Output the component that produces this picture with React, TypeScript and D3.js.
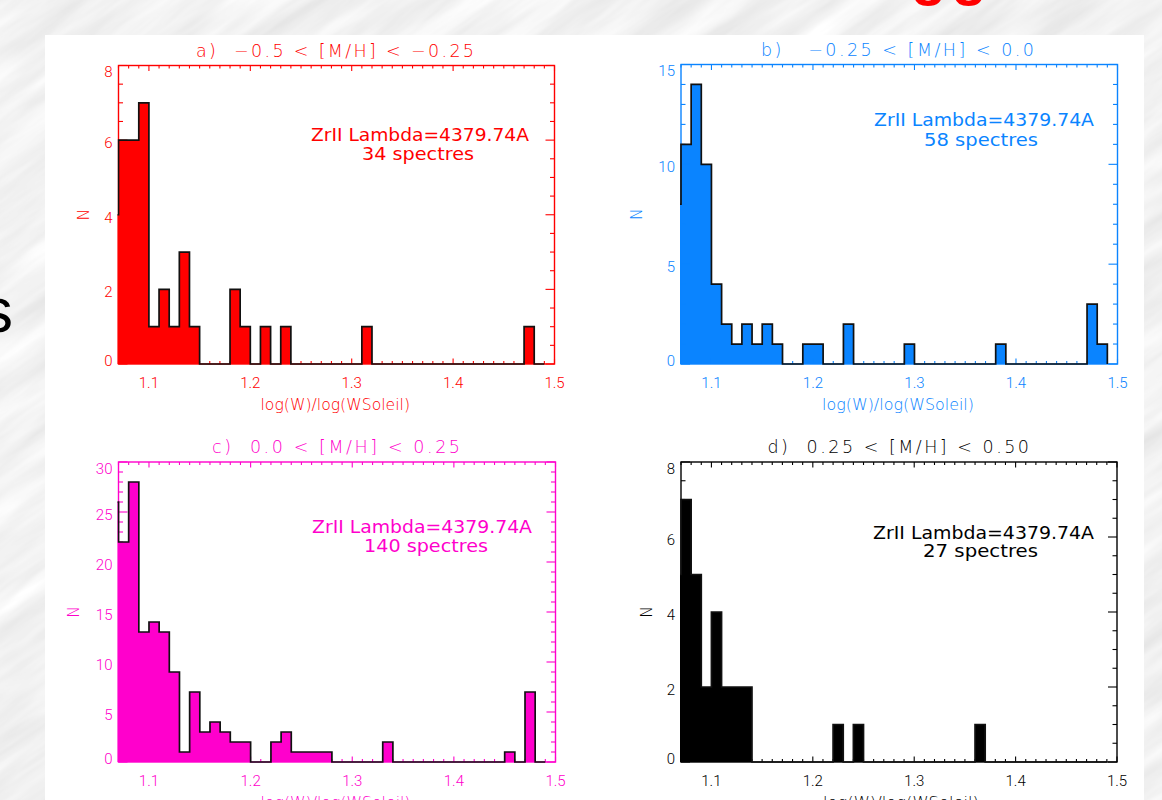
import React from "react";
import * as d3 from "d3";

// ---------- data ----------
const binStart = 1.07;
const binWidth = 0.01;
const xDomain: [number, number] = [1.07, 1.5];
const xMajorTicks = [1.1, 1.2, 1.3, 1.4, 1.5];

// counts per 0.01 bin, starting at 1.07
const countsA = [6, 6, 7, 1, 2, 1, 3, 1, 0, 0, 0, 2, 1, 0, 1, 0, 1, 0, 0, 0, 0, 0, 0, 0, 1, 0, 0, 0, 0, 0, 0, 0, 0, 0, 0, 0, 0, 0, 0, 0, 1, 0];
const countsB = [11, 14, 10, 4, 2, 1, 2, 1, 2, 1, 0, 0, 1, 1, 0, 0, 2, 0, 0, 0, 0, 0, 1, 0, 0, 0, 0, 0, 0, 0, 0, 1, 0, 0, 0, 0, 0, 0, 0, 0, 3, 1];
const countsC = [22, 28, 13, 14, 13, 9, 1, 7, 3, 4, 3, 2, 2, 0, 0, 2, 3, 1, 1, 1, 1, 0, 0, 0, 0, 0, 2, 0, 0, 0, 0, 0, 0, 0, 0, 0, 0, 0, 1, 0, 7, 0];
const countsD = [7, 5, 2, 4, 2, 2, 2, 0, 0, 0, 0, 0, 0, 0, 0, 1, 0, 1, 0, 0, 0, 0, 0, 0, 0, 0, 0, 0, 0, 1, 0, 0, 0, 0, 0, 0, 0, 0, 0, 0, 0, 0];
// value of the (clipped) bin just below 1.07
const edgeCounts = [4, 8, 26, 5];

const titles = [
  "a)  −0.5 < [M/H] < −0.25",
  "b)   −0.25 < [M/H] < 0.0",
  "c)  0.0 < [M/H] < 0.25",
  "d)  0.25 < [M/H] < 0.50",
];
const lineLabel = "ZrII Lambda=4379.74A";
const spectraCounts = [34, 58, 140, 27];
const yMaxes = [8, 15, 30, 8];
const yMajorSteps = [2, 5, 5, 2];
const yMinorSteps = [0.5, 1, 1, 0.5];
const xTitle = "log(W)/log(WSoleil)";
const yTitle = "N";
const colors = ["#ff0000", "#0a84ff", "#ff00cc", "#000000"];

// ---------- layout ----------
const layouts = [
  { left: 118.5, right: 554.5, top: 65.5, bottom: 364, titleX: 196, titleLen: 278, a1x: 311, a1y: 141, a1len: 218, a2x: 362, a2y: 159.5, a2len: 112, xtX: 260.5, xtLen: 149.5, ytX: 83 },
  { left: 681, right: 1117.5, top: 64.5, bottom: 364, titleX: 761, titleLen: 273, a1x: 874, a1y: 126, a1len: 220, a2x: 924, a2y: 145.5, a2len: 114, xtX: 822, xtLen: 152, ytX: 636 },
  { left: 118.5, right: 555.5, top: 462, bottom: 762, titleX: 212, titleLen: 248, a1x: 312, a1y: 532.5, a1len: 220, a2x: 364, a2y: 552, a2len: 124, xtX: 260.5, xtLen: 150, ytX: 73.5 },
  { left: 681, right: 1117, top: 462, bottom: 762, titleX: 767.5, titleLen: 261.5, a1x: 873, a1y: 539, a1len: 221, a2x: 923, a2y: 556.5, a2len: 115, xtX: 823, xtLen: 156, ytX: 646 },
];

const thinFont = "Roboto, 'Liberation Sans', sans-serif";
const wideFont = "'DejaVu Sans', 'Liberation Sans', sans-serif";

type Pt = [number, number];

function Panel({ i, counts }: { i: number; counts: number[] }) {
  const L = layouts[i];
  const color = colors[i];
  const yMax = yMaxes[i];
  const x = d3.scaleLinear().domain(xDomain).range([L.left, L.right]);
  const y = d3.scaleLinear().domain([0, yMax]).range([L.bottom, L.top]);

  const pts: Pt[] = [
    [binStart - binWidth, edgeCounts[i]],
    ...counts.map((c, k) => [binStart + k * binWidth, c] as Pt),
    [binStart + counts.length * binWidth, 0],
  ];
  const area = d3
    .area<Pt>()
    .x((d) => x(d[0]))
    .y0(y(0))
    .y1((d) => y(d[1]))
    .curve(d3.curveStepAfter);
  const line = d3
    .line<Pt>()
    .x((d) => x(d[0]))
    .y((d) => y(d[1]))
    .curve(d3.curveStepAfter);

  const xMinor = d3.range(0, 44).map((k) => +(binStart + k * 0.01).toFixed(2));
  const yMajor = d3.range(0, yMax + 1e-9, yMajorSteps[i]);
  const yMinor = d3.range(0, yMax + 1e-9, yMinorSteps[i]);

  const xMajLen = 5.5, xMinLen = 3, yMajLen = 9, yMinLen = 4.5;
  const clipId = `clip${i}`;

  const yLabelBaseline = (v: number) => {
    let c = y(v) + 2.5;
    if (v === yMax) c = L.top + 6.5;
    if (v === 0) c = L.bottom - 3.5;
    return c + 5.3;
  };

  return (
    <g>
      <defs>
        <clipPath id={clipId}>
          <rect x={L.left - 1} y={L.top} width={L.right - L.left + 1} height={L.bottom - L.top + 2} />
        </clipPath>
      </defs>
      <path d={area(pts) || ""} fill={color} clipPath={`url(#${clipId})`} />
      {/* frame */}
      <rect x={L.left} y={L.top} width={L.right - L.left} height={L.bottom - L.top} fill="none" stroke={color} strokeWidth={1.4} />
      {/* ticks on all four sides */}
      <g stroke={color} strokeWidth={1.1}>
        {xMinor.map((v) => {
          const major = xMajorTicks.some((m) => Math.abs(m - v) < 1e-6);
          const len = major ? xMajLen : xMinLen;
          return (
            <g key={"x" + v}>
              <line x1={x(v)} x2={x(v)} y1={L.bottom} y2={L.bottom - len} />
              <line x1={x(v)} x2={x(v)} y1={L.top} y2={L.top + len} />
            </g>
          );
        })}
        {yMinor.map((v) => {
          const major = yMajor.some((m) => Math.abs(m - v) < 1e-6);
          const len = major ? yMajLen : yMinLen;
          return (
            <g key={"y" + v}>
              <line x1={L.left} x2={L.left + len} y1={y(v)} y2={y(v)} />
              <line x1={L.right} x2={L.right - len} y1={y(v)} y2={y(v)} />
            </g>
          );
        })}
      </g>
      {/* histogram outline */}
      <path d={line(pts) || ""} fill="none" stroke="#111" strokeWidth={1.7} clipPath={`url(#${clipId})`} />
      {/* tick labels */}
      <g fill={color} fontFamily={thinFont} fontWeight={300} fontSize={15}>
        {xMajorTicks.map((v) => (
          <text key={"xl" + v} x={x(v)} y={L.bottom + 24.4} textAnchor="middle">
            {v.toFixed(1)}
          </text>
        ))}
        {yMajor.map((v) => (
          <text key={"yl" + v} x={L.left - 6} y={yLabelBaseline(v)} textAnchor="end">
            {String(v)}
          </text>
        ))}
      </g>
      {/* titles */}
      <text x={L.titleX} y={L.top - 9} fill={color} fontFamily={wideFont} fontWeight={200} fontSize={17.5} textLength={L.titleLen} lengthAdjust="spacing" style={{ whiteSpace: "pre" }}>
        {titles[i]}
      </text>
      <text x={L.xtX} y={L.bottom + 46} fill={color} fontFamily={wideFont} fontWeight={200} fontSize={15.5} textLength={L.xtLen} lengthAdjust="spacingAndGlyphs">
        {xTitle}
      </text>
      <text transform={`translate(${L.ytX},${(L.top + L.bottom) / 2}) rotate(-90)`} dy="0.36em" textAnchor="middle" fill={color} fontFamily={wideFont} fontWeight={200} fontSize={15.5}>
        {yTitle}
      </text>
      {/* annotation */}
      <g fill={color} fontFamily={wideFont} fontWeight={400} fontSize={17.5}>
        <text x={L.a1x} y={L.a1y} textLength={L.a1len} lengthAdjust="spacingAndGlyphs">
          {lineLabel}
        </text>
        <text x={L.a2x} y={L.a2y} textLength={L.a2len} lengthAdjust="spacingAndGlyphs">
          {`${spectraCounts[i]} spectres`}
        </text>
      </g>
    </g>
  );
}

export default function App() {
  const allCounts = [countsA, countsB, countsC, countsD];
  return (
    <div>
      <style>{"html,body{margin:0;padding:0;overflow:hidden;}"}</style>
      <svg width={1162} height={800} style={{ position: "absolute", left: 0, top: 0, display: "block" }}>
        <defs>
          <filter id="marble" x="0" y="0" width="1" height="1">
            <feTurbulence type="fractalNoise" baseFrequency="0.006 0.04" numOctaves={4} seed={11} result="n" />
            <feColorMatrix
              in="n"
              type="matrix"
              values="0.18 0.18 0.18 0 0.62  0.18 0.18 0.18 0 0.62  0.18 0.18 0.18 0 0.62  0 0 0 0 1"
            />
          </filter>
          <clipPath id="pageClip">
            <rect x={0} y={0} width={1162} height={800} />
          </clipPath>
        </defs>
        <rect x={0} y={0} width={1162} height={800} fill="#e0e0e0" />
        <g clipPath="url(#pageClip)">
          <g transform="rotate(-35 581 400)">
            <rect x={-300} y={-400} width={1762} height={1600} filter="url(#marble)" />
          </g>
        </g>
        {/* cropped slide texts */}
        <text x={911} y={-6} fill="#ff0000" fontFamily="'Liberation Sans', Arial, sans-serif" fontWeight={700} fontSize={58} letterSpacing={5}>
          gg
        </text>
        <text x={13} y={332} textAnchor="end" fill="#000" fontFamily="'Liberation Sans', Arial, sans-serif" fontSize={63}>
          s
        </text>
        <rect x={45} y={35} width={1099} height={765} fill="#ffffff" />
        {allCounts.map((c, i) => (
          <Panel key={i} i={i} counts={c} />
        ))}
      </svg>
    </div>
  );
}
